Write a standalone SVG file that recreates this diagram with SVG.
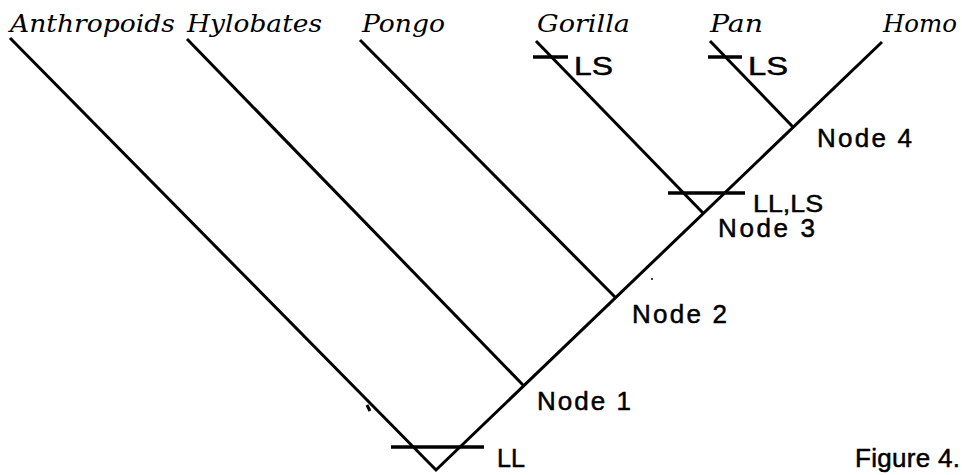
<svg xmlns="http://www.w3.org/2000/svg" width="962" height="475" viewBox="0 0 962 475">
<style>
.br{stroke:#000;stroke-width:3;fill:none;stroke-linecap:butt}
.bar{stroke:#000;stroke-width:3.5;fill:none}
.tx{font-family:"DejaVu Serif","Liberation Serif",serif;font-style:italic;font-size:24px;fill:#000}
.lb{font-family:"Liberation Sans",Arial,sans-serif;font-size:26px;fill:#000;stroke:#000;stroke-width:0.5}
.sm{font-size:24px}
</style>
<rect width="962" height="475" fill="#fff"/>
<g id="connectors">
<path class="br" d="M10,38 L436,470 L882,42"/>
<path class="br" d="M187,39 L524,386"/>
<path class="br" d="M360,40 L616,298"/>
<path class="br" d="M536,41 L703,213"/>
<path class="br" d="M710,41 L793,127"/>
<path class="bar" d="M533,57 H568"/>
<path class="bar" d="M708,57 H742"/>
<path class="bar" d="M668,193 H745"/>
<path class="bar" d="M391,447 H484"/>
<path d="M367,405 L370,411" stroke="#000" stroke-width="3"/>
<circle cx="652" cy="279" r="1" fill="#000"/>
</g>
<g id="anthropoids"><text class="tx" x="10" y="32" textLength="165" lengthAdjust="spacingAndGlyphs">Anthropoids</text></g>
<g id="hylobates"><text class="tx" x="187" y="32" textLength="135" lengthAdjust="spacingAndGlyphs">Hylobates</text></g>
<g id="pongo"><text class="tx" x="362" y="32" textLength="83" lengthAdjust="spacingAndGlyphs">Pongo</text></g>
<g id="gorilla"><text class="tx" x="537" y="32" textLength="93" lengthAdjust="spacingAndGlyphs">Gorilla</text>
<text class="lb" x="574" y="75" textLength="39" lengthAdjust="spacingAndGlyphs">LS</text></g>
<g id="pan"><text class="tx" x="710" y="32" textLength="53" lengthAdjust="spacingAndGlyphs">Pan</text>
<text class="lb" x="748" y="75" textLength="40" lengthAdjust="spacingAndGlyphs">LS</text></g>
<g id="homo"><text class="tx" x="883" y="32" textLength="74" lengthAdjust="spacingAndGlyphs">Homo</text></g>
<g id="node4"><text class="lb" x="817" y="147" textLength="95" lengthAdjust="spacing">Node 4</text></g>
<g id="node3"><text class="lb sm" x="753" y="212" textLength="70" lengthAdjust="spacingAndGlyphs">LL,LS</text>
<text class="lb" x="718" y="237" textLength="97" lengthAdjust="spacing">Node 3</text></g>
<g id="node2"><text class="lb" x="632" y="323" textLength="95" lengthAdjust="spacing">Node 2</text></g>
<g id="node1"><text class="lb" x="537" y="410" textLength="94" lengthAdjust="spacing">Node 1</text></g>
<g id="root"><text class="lb" x="497" y="467" textLength="28" lengthAdjust="spacingAndGlyphs">LL</text></g>
<text class="lb" x="855" y="467" textLength="105" lengthAdjust="spacing">Figure 4.</text>
</svg>
